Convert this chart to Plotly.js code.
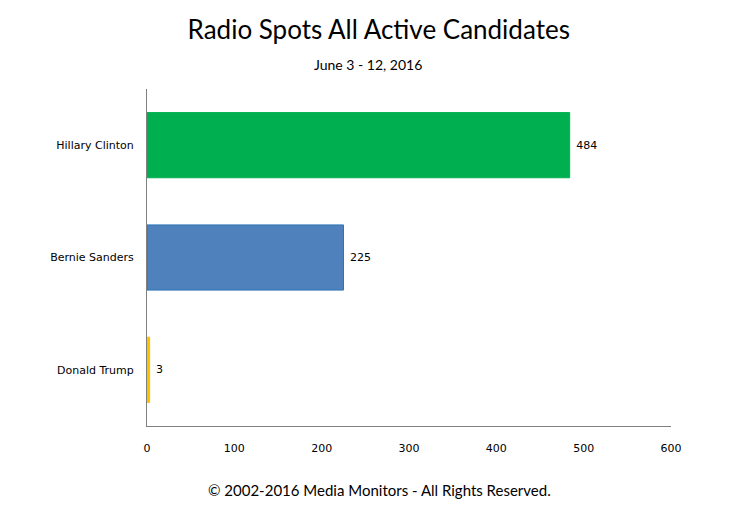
<!DOCTYPE html>
<html>
<head>
<meta charset="utf-8">
<script src="https://cdn.plot.ly/plotly-3.0.1.min.js"></script>
<style>html,body{margin:0;padding:0;background:#fff;}#chart{width:750px;height:516px;}</style>
</head>
<body>
<div id="chart"></div>
<script>
const candidates = ["Hillary Clinton", "Bernie Sanders", "Donald Trump"];
const radioSpots = [484, 225, 3];
const barColors = ["#00b050", "#4f81bd", "#ffc000"];
const barLineColors = ["#00b050", "#2e75b6", "#ffc000"];
const xTicks = [0, 100, 200, 300, 400, 500, 600];

const trace = {
  type: "bar",
  orientation: "h",
  y: candidates,
  x: radioSpots,
  marker: {color: barColors, line: {color: barLineColors, width: 1}},
  text: radioSpots.map(v => "\u00a0" + v),
  textposition: "outside",
  cliponaxis: false,
  textfont: {family: "DejaVu Sans, Verdana, sans-serif", size: 11, color: "#000"},
  hoverinfo: "none"
};

const layout = {
  width: 750, height: 516,
  margin: {l: 147, r: 79, t: 89, b: 90},
  paper_bgcolor: "#fff", plot_bgcolor: "#fff",
  showlegend: false,
  bargap: 0.42,
  title: {text: "Radio Spots All Active Candidates", x: 0.505, xanchor: "center", y: 0.943, yanchor: "middle",
          font: {family: "Lato, 'Open Sans', sans-serif", size: 26, color: "#000"}},
  xaxis: {range: [0, 600], tickvals: xTicks, ticktext: xTicks.map(String),
          showgrid: false, zeroline: false, showline: true, linecolor: "#808080", linewidth: 1,
          ticks: "outside", ticklen: 12, tickcolor: "rgba(0,0,0,0)",
          tickfont: {family: "DejaVu Sans, Verdana, sans-serif", size: 11, color: "#000"}, fixedrange: true},
  yaxis: {autorange: "reversed", showgrid: false, zeroline: false, showline: true, linecolor: "#808080", linewidth: 1,
          ticks: "outside", ticklen: 10, tickcolor: "rgba(0,0,0,0)",
          tickfont: {family: "DejaVu Sans, Verdana, sans-serif", size: 11, color: "#000"}, fixedrange: true},
  annotations: [
    {text: "June 3 - 12, 2016", xref: "paper", yref: "paper", x: 0.422, y: 1, yshift: 25, xanchor: "center", yanchor: "middle",
     showarrow: false, font: {family: "Lato, 'Open Sans', sans-serif", size: 14, color: "#000"}},
    {text: "© 2002-2016 Media Monitors - All Rights Reserved.", xref: "paper", yref: "paper", x: 0.443, y: 0, yshift: -64,
     xanchor: "center", yanchor: "middle", showarrow: false,
     font: {family: "Lato, 'Open Sans', sans-serif", size: 15, color: "#000"}}
  ]
};

Plotly.newPlot("chart", [trace], layout, {displayModeBar: false, staticPlot: true});
</script>
</body>
</html>
